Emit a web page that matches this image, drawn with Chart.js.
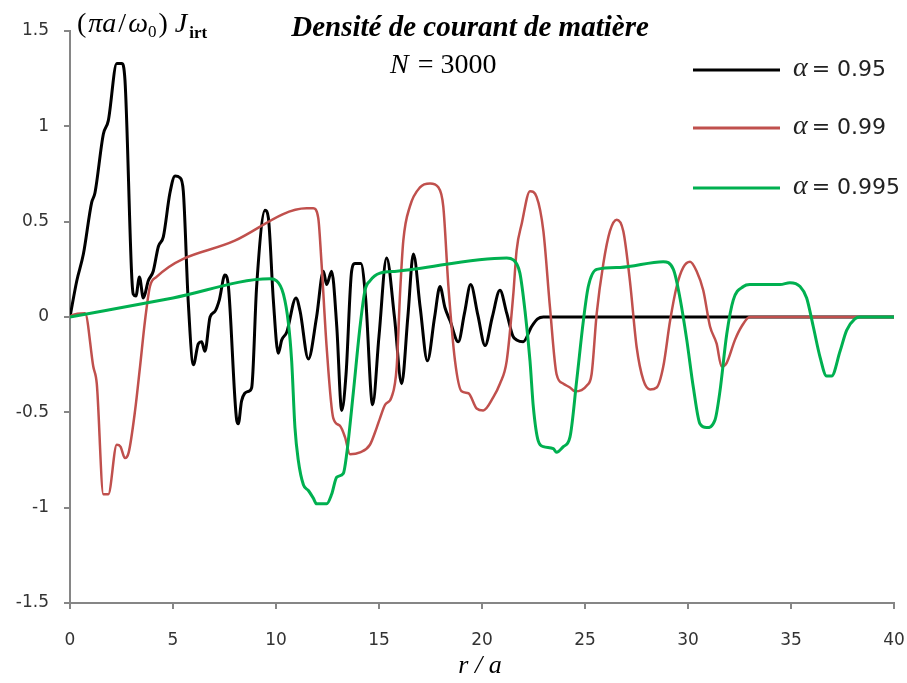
<!DOCTYPE html>
<html>
<head>
<meta charset="utf-8">
<title>Densité de courant de matière</title>
<script src="https://cdn.jsdelivr.net/npm/chart.js@4.4.1/dist/chart.umd.min.js"></script>
<style>
  body { margin: 0; background: #fff; }
  #wrap { width: 907px; height: 683px; }
</style>
</head>
<body>
<div id="wrap"><canvas id="chart" width="907" height="683"></canvas></div>
<script>
// r/a values and current density
const blackX = [0, 0.33, 0.65, 1.05, 1.21, 1.62, 1.86, 2.27, 2.51, 2.67, 2.99, 3.07, 3.2, 3.37, 3.56, 3.8, 4.04, 4.29, 4.53, 4.85, 5.1, 5.34, 5.5, 5.74, 5.99, 6.23, 6.39, 6.55, 6.8, 7.04, 7.25, 7.52, 7.69, 8.09, 8.17, 8.33, 8.66, 8.82, 9.06, 9.47, 9.63, 9.87, 10.11, 10.28, 10.52, 10.97, 11.17, 11.57, 11.97, 12.3, 12.46, 12.7, 12.95, 13.19, 13.4, 13.67, 13.83, 14.12, 14.35, 14.69, 15.0, 15.37, 15.75, 16.1, 16.4, 16.67, 17.0, 17.35, 17.7, 17.96, 18.2, 18.45, 18.85, 19.15, 19.45, 19.8, 20.15, 20.5, 20.87, 21.2, 21.5, 21.68, 22.0, 22.41, 22.7, 22.98, 40];
const blackY = [0, 0.19, 0.33, 0.6, 0.65, 0.96, 1.03, 1.33, 1.33, 1.24, 0.23, 0.12, 0.11, 0.21, 0.1, 0.19, 0.24, 0.37, 0.42, 0.65, 0.74, 0.73, 0.66, 0.08, -0.25, -0.14, -0.13, -0.18, 0, 0.03, 0.09, 0.22, 0.16, -0.54, -0.56, -0.44, -0.39, -0.37, 0.16, 0.56, 0.52, 0.09, -0.19, -0.12, -0.08, 0.1, 0.03, -0.22, 0, 0.24, 0.17, 0.24, -0.05, -0.49, -0.3, 0.24, 0.28, 0.28, 0.1, -0.46, -0.1, 0.31, 0, -0.35, 0, 0.33, 0.05, -0.23, 0, 0.16, 0.05, -0.02, -0.13, 0.02, 0.17, 0.01, -0.15, 0, 0.14, 0.02, -0.1, -0.12, -0.13, -0.05, -0.01, 0, 0];

const redX = [0, 0.1, 0.73, 1.13, 1.3, 1.62, 1.86, 2.27, 2.45, 2.67, 2.85, 3.16, 3.4, 3.64, 3.88, 4.2, 8, 11.49, 11.81, 12.05, 12.2, 12.46, 12.78, 13.1, 13.35, 13.59, 14.08, 14.56, 14.89, 15.05, 15.3, 15.61, 15.86, 16.02, 16.18, 16.5, 16.99, 17.48, 17.88, 18.12, 18.37, 18.69, 19.01, 19.34, 19.74, 20.06, 20.55, 20.87, 21.2, 21.52, 21.68, 21.93, 22.33, 22.65, 22.98, 23.3, 23.62, 23.95, 24.27, 24.51, 25.08, 25.32, 25.57, 25.89, 26.21, 26.54, 26.86, 27.18, 27.51, 27.83, 28.16, 28.48, 28.8, 29.13, 29.45, 29.77, 30.1, 30.42, 30.74, 31.07, 31.39, 31.63, 31.88, 32.28, 32.6, 33.0, 40];
const redY = [0, 0.01, 0.02, -0.26, -0.35, -0.93, -0.93, -0.67, -0.68, -0.74, -0.71, -0.49, -0.26, -0.02, 0.16, 0.21, 0.4, 0.57, 0.57, 0.52, 0.3, -0.16, -0.53, -0.57, -0.63, -0.72, -0.71, -0.67, -0.58, -0.53, -0.46, -0.42, -0.26, 0.12, 0.4, 0.58, 0.68, 0.7, 0.68, 0.58, 0.16, -0.23, -0.39, -0.4, -0.48, -0.49, -0.42, -0.35, -0.23, 0.12, 0.35, 0.49, 0.66, 0.63, 0.45, 0.05, -0.3, -0.35, -0.37, -0.39, -0.36, -0.3, 0.02, 0.28, 0.45, 0.51, 0.45, 0.19, -0.16, -0.33, -0.38, -0.37, -0.26, -0.02, 0.16, 0.26, 0.29, 0.24, 0.14, -0.05, -0.14, -0.26, -0.24, -0.12, -0.05, 0, 0];

const greenX = [0, 5, 9.71, 10.03, 10.36, 10.6, 10.76, 10.92, 11.08, 11.33, 11.57, 11.81, 11.97, 12.46, 12.7, 12.95, 13.27, 13.43, 13.75, 14.08, 14.32, 14.56, 15.05, 15.86, 21.2, 21.52, 21.84, 22.09, 22.33, 22.49, 22.73, 22.98, 23.46, 23.62, 23.95, 24.27, 24.6, 24.92, 25.16, 25.57, 26.7, 28.8, 29.29, 29.61, 29.94, 30.26, 30.58, 30.9, 31.31, 31.55, 31.88, 32.2, 32.69, 33.0, 34.47, 34.95, 35.44, 35.76, 36.08, 36.41, 36.73, 36.97, 37.38, 37.7, 38.1, 38.35, 40];
const greenY = [0, 0.1, 0.2, 0.19, 0.12, -0.03, -0.23, -0.58, -0.75, -0.88, -0.91, -0.95, -0.98, -0.98, -0.93, -0.84, -0.82, -0.72, -0.4, -0.05, 0.14, 0.19, 0.23, 0.24, 0.31, 0.3, 0.23, 0.03, -0.23, -0.47, -0.65, -0.68, -0.69, -0.71, -0.68, -0.63, -0.33, -0.02, 0.16, 0.25, 0.26, 0.29, 0.25, 0.1, -0.12, -0.37, -0.56, -0.58, -0.54, -0.39, -0.09, 0.09, 0.16, 0.17, 0.17, 0.18, 0.16, 0.1, -0.05, -0.21, -0.31, -0.31, -0.18, -0.07, -0.01, 0, 0];

const seriesLabels = ["0.95", "0.99", "0.995"];
const seriesColors = ["#000000", "#c0504d", "#00b050"];

const pts = (xs, ys) => xs.map((x, i) => ({ x: x, y: ys[i] }));

const serif = '"Liberation Serif", "DejaVu Serif", serif';
const sans = '"DejaVu Sans", Verdana, sans-serif';

// titles, axis names and the legend, drawn onto the canvas
const textPlugin = {
  id: 'texts',
  afterDraw(chart) {
    const ctx = chart.ctx;
    ctx.save();
    ctx.fillStyle = '#000';
    ctx.textBaseline = 'alphabetic';

    ctx.textAlign = 'center';
    ctx.font = 'bold italic 29px ' + serif;
    ctx.fillText('Densité de courant de matière', 470, 36);

    // N = 3000
    ctx.textAlign = 'left';
    let x = 390;
    ctx.font = 'italic 28px ' + serif;
    ctx.fillText('N', x, 73);
    x += ctx.measureText('N').width + 9;
    ctx.font = '28px ' + serif;
    ctx.fillText('= 3000', x, 73);

    // y axis name: (πa/ω0) J_irt
    const parts = [
      { t: '(', f: '28px ' + serif, dy: 0, gap: 2 },
      { t: 'πa', f: 'italic 28px ' + serif, dy: 0, gap: 2 },
      { t: '/', f: '28px ' + serif, dy: 0, gap: 2 },
      { t: 'ω', f: 'italic 28px ' + serif, dy: 0, gap: 0 },
      { t: '0', f: '17px ' + serif, dy: 5, gap: 2 },
      { t: ')', f: '28px ' + serif, dy: 0, gap: 7 },
      { t: 'J', f: 'italic 28px ' + serif, dy: 0, gap: 2 },
      { t: 'irt', f: 'bold 17px ' + serif, dy: 6, gap: 0 }
    ];
    x = 77;
    parts.forEach(p => {
      ctx.font = p.f;
      ctx.fillText(p.t, x, 32 + p.dy);
      x += ctx.measureText(p.t).width + p.gap;
    });

    // x axis name
    ctx.textAlign = 'center';
    ctx.font = 'italic 26px ' + serif;
    ctx.fillText('r / a', 480, 673);

    // legend
    const rows = [70, 128, 188];
    seriesLabels.forEach((lab, i) => {
      ctx.strokeStyle = seriesColors[i];
      ctx.lineWidth = 3;
      ctx.beginPath();
      ctx.moveTo(693, rows[i]);
      ctx.lineTo(780, rows[i]);
      ctx.stroke();
      ctx.textAlign = 'left';
      ctx.textBaseline = 'middle';
      ctx.fillStyle = '#222';
      ctx.font = 'italic 28px ' + serif;
      let lx = 793;
      ctx.fillText('α', lx, rows[i] - 1);
      lx += ctx.measureText('α').width + 4;
      ctx.font = '22px ' + sans;
      ctx.fillText('= ' + lab, lx, rows[i]);
    });
    ctx.restore();
  }
};

const axisGrey = '#868686';

new Chart(document.getElementById('chart'), {
  type: 'line',
  data: {
    datasets: [{
        label: seriesLabels[0],
        data: pts(blackX, blackY),
        borderColor: seriesColors[0],
        borderWidth: 3,
        order: 2
      }, {
        label: seriesLabels[1],
        data: pts(redX, redY),
        borderColor: seriesColors[1],
        borderWidth: 2.5,
        order: 1
      }, {
        label: seriesLabels[2],
        data: pts(greenX, greenY),
        borderColor: seriesColors[2],
        borderWidth: 3,
        order: 0
      }
    ]
  },
  options: {
    responsive: false,
    animation: false,
    events: [],
    elements: {
      point: { radius: 0 },
      line: { cubicInterpolationMode: 'monotone', fill: false }
    },
    layout: { padding: { top: 31, right: 13, left: 0, bottom: 0 } },
    plugins: {
      legend: { display: false },
      title: { display: false },
      tooltip: { enabled: false }
    },
    scales: {
      x: {
        type: 'linear',
        min: 0,
        max: 40,
        afterFit(scale) { scale.height = 80; scale.paddingLeft = 0; scale.paddingRight = 0; },
        ticks: { stepSize: 5, color: '#333', font: { family: sans, size: 17 }, padding: 21, maxRotation: 0 },
        grid: { drawOnChartArea: false, tickLength: 6, color: axisGrey, lineWidth: 2 },
        border: { color: axisGrey, width: 2 }
      },
      y: {
        min: -1.5,
        max: 1.5,
        afterFit(scale) { scale.width = 70; scale.paddingTop = 0; scale.paddingBottom = 0; },
        ticks: { stepSize: 0.5, color: '#333', font: { family: sans, size: 17 }, padding: 15, callback: v => String(v) },
        grid: { drawOnChartArea: false, tickLength: 6, color: axisGrey, lineWidth: 2 },
        border: { color: axisGrey, width: 2 }
      }
    }
  },
  plugins: [textPlugin]
});
</script>
</body>
</html>
